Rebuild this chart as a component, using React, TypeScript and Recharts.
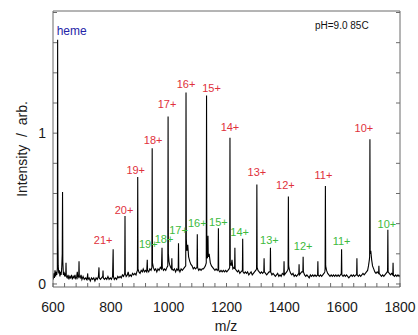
import React from 'react';
import { ComposedChart, Line, Scatter, XAxis, YAxis } from 'recharts';

// Spectrum as [m/z, intensity] pairs, split by range
const spectrum600: [number, number][] = [
  [601, 0.03], [603, 0.07], [605, 0.04], [607, 0.09], [609, 0.05], [611, 0.08], [613, 0.06], [615, 0.1],
  [616, 1.62], [617, 0.3], [618, 0.12], [620, 0.07], [622, 0.09], [624, 0.05], [626, 0.08], [628, 0.06],
  [630, 0.1], [632, 0.2], [633, 0.61], [634, 0.15], [636, 0.06], [638, 0.08], [640, 0.05], [642, 0.07],
  [644, 0.05], [645, 0.14], [646, 0.05], [649, 0.04], [652, 0.06], [655, 0.03], [658, 0.05], [661, 0.04],
  [664, 0.06], [667, 0.03], [670, 0.05], [673, 0.04], [676, 0.06], [679, 0.03], [682, 0.05], [684, 0.08],
  [686, 0.04], [689, 0.05], [690, 0.15], [691, 0.05], [694, 0.04], [697, 0.06], [700, 0.03], [704, 0.05],
  [708, 0.03], [712, 0.04], [716, 0.03], [719, 0.05], [720, 0.07], [721, 0.03], [725, 0.04], [729, 0.02],
  [733, 0.04], [737, 0.03], [741, 0.04], [745, 0.02], [749, 0.04], [753, 0.03], [757, 0.05], [759, 0.11],
  [760, 0.04], [764, 0.03], [768, 0.04], [772, 0.05], [773, 0.09], [774, 0.04], [778, 0.03], [782, 0.04],
  [786, 0.03], [790, 0.05], [794, 0.03], [798, 0.04],
];

const spectrum800: [number, number][] = [
  [802, 0.03], [806, 0.05], [808, 0.23], [809, 0.05], [812, 0.03], [816, 0.04], [820, 0.03], [824, 0.05],
  [828, 0.04], [832, 0.05], [836, 0.04], [840, 0.06], [844, 0.05], [848, 0.07], [849, 0.45], [850, 0.07],
  [853, 0.05], [857, 0.06], [860, 0.08], [863, 0.05], [867, 0.06], [871, 0.05], [875, 0.07], [879, 0.06],
  [883, 0.07], [887, 0.06], [890, 0.08], [892, 0.09], [893, 0.71], [894, 0.1], [897, 0.08], [901, 0.07],
  [905, 0.09], [909, 0.08], [912, 0.1], [916, 0.08], [920, 0.09], [924, 0.08], [926, 0.16], [927, 0.09],
  [931, 0.08], [935, 0.1], [939, 0.09], [942, 0.11], [943, 0.9], [944, 0.14], [947, 0.11], [951, 0.09],
  [955, 0.1], [959, 0.08], [963, 0.1], [967, 0.09], [971, 0.11], [975, 0.1], [977, 0.24], [978, 0.11],
  [982, 0.09], [986, 0.1], [990, 0.09], [994, 0.11], [997, 0.12], [998, 1.11], [999, 0.2],
];

const spectrum1000: [number, number][] = [
  [1001, 0.15], [1003, 0.13], [1007, 0.11], [1010, 0.1], [1011, 0.17], [1012, 0.1], [1016, 0.09],
  [1020, 0.1], [1024, 0.08], [1028, 0.1], [1032, 0.09], [1033, 0.1], [1034, 0.27], [1035, 0.1], [1039, 0.08],
  [1043, 0.1], [1047, 0.09], [1051, 0.1], [1055, 0.11], [1059, 0.12], [1060, 1.27], [1061, 0.3],
  [1063, 0.22], [1066, 0.26], [1069, 0.18], [1073, 0.15], [1077, 0.13], [1081, 0.12], [1085, 0.1],
  [1089, 0.11], [1093, 0.1], [1098, 0.11], [1099, 0.33], [1100, 0.11], [1104, 0.09], [1108, 0.1],
  [1112, 0.09], [1116, 0.1], [1120, 0.1], [1124, 0.11], [1127, 0.12], [1130, 0.14], [1131, 1.25],
  [1132, 0.2], [1134, 0.17], [1136, 0.32], [1137, 0.18], [1140, 0.2], [1144, 0.14], [1148, 0.12],
  [1152, 0.11], [1156, 0.1], [1160, 0.09], [1164, 0.1], [1168, 0.09], [1171, 0.1], [1172, 0.37],
  [1173, 0.09], [1177, 0.08], [1181, 0.09], [1185, 0.08], [1189, 0.09], [1193, 0.08], [1197, 0.09],
];

const spectrum1200: [number, number][] = [
  [1201, 0.08], [1205, 0.09], [1209, 0.1], [1211, 0.11], [1212, 0.97], [1213, 0.14], [1216, 0.12],
  [1219, 0.16], [1222, 0.1], [1226, 0.11], [1228, 0.1], [1229, 0.24], [1230, 0.1], [1234, 0.09],
  [1238, 0.08], [1242, 0.09], [1246, 0.07], [1250, 0.08], [1255, 0.09], [1256, 0.3], [1257, 0.08],
  [1261, 0.07], [1265, 0.08], [1269, 0.07], [1273, 0.08], [1277, 0.06], [1281, 0.07], [1285, 0.08],
  [1289, 0.06], [1293, 0.07], [1297, 0.08], [1301, 0.09], [1304, 0.1], [1305, 0.66], [1306, 0.11],
  [1309, 0.09], [1313, 0.08], [1317, 0.07], [1321, 0.08], [1325, 0.07], [1329, 0.08], [1330, 0.17],
  [1331, 0.08], [1335, 0.07], [1339, 0.06], [1343, 0.07], [1347, 0.08], [1351, 0.08], [1352, 0.24],
  [1353, 0.08], [1357, 0.06], [1361, 0.07], [1365, 0.06], [1369, 0.05], [1373, 0.06], [1377, 0.07],
  [1381, 0.05], [1385, 0.06], [1389, 0.05], [1393, 0.07], [1398, 0.06], [1399, 0.15], [1400, 0.06],
];

const spectrum1400: [number, number][] = [
  [1404, 0.07], [1408, 0.08], [1411, 0.09], [1413, 0.1], [1414, 0.58], [1415, 0.12], [1418, 0.09],
  [1422, 0.07], [1426, 0.06], [1430, 0.07], [1434, 0.05], [1438, 0.06], [1442, 0.05], [1446, 0.06],
  [1450, 0.07], [1451, 0.13], [1452, 0.06], [1456, 0.07], [1460, 0.08], [1464, 0.08], [1465, 0.18],
  [1466, 0.08], [1470, 0.06], [1474, 0.05], [1478, 0.06], [1482, 0.05], [1486, 0.04], [1490, 0.06],
  [1494, 0.05], [1498, 0.06], [1502, 0.05], [1506, 0.06], [1510, 0.05], [1515, 0.06], [1516, 0.15],
  [1517, 0.06], [1521, 0.05], [1525, 0.06], [1529, 0.05], [1533, 0.06], [1537, 0.07], [1540, 0.08],
  [1541, 0.1], [1542, 0.65], [1543, 0.12], [1546, 0.09], [1550, 0.07], [1554, 0.06], [1558, 0.05],
  [1562, 0.06], [1566, 0.05], [1570, 0.06], [1574, 0.05], [1578, 0.06], [1582, 0.05], [1586, 0.06],
  [1590, 0.05], [1594, 0.06], [1597, 0.07], [1598, 0.23], [1599, 0.06],
];

const spectrum1600: [number, number][] = [
  [1603, 0.05], [1607, 0.06], [1611, 0.05], [1615, 0.06], [1619, 0.05], [1623, 0.04], [1627, 0.05],
  [1631, 0.06], [1635, 0.05], [1639, 0.06], [1643, 0.05], [1647, 0.06], [1650, 0.06], [1651, 0.17],
  [1652, 0.06], [1656, 0.05], [1660, 0.06], [1664, 0.05], [1668, 0.06], [1672, 0.07], [1676, 0.06],
  [1680, 0.07], [1684, 0.08], [1688, 0.09], [1691, 0.12], [1694, 0.16], [1695, 0.18], [1696, 0.96],
  [1697, 0.2], [1699, 0.22], [1702, 0.16], [1705, 0.12], [1709, 0.1], [1713, 0.08], [1717, 0.07],
  [1721, 0.08], [1726, 0.07], [1727, 0.12], [1728, 0.07], [1732, 0.06], [1736, 0.05], [1740, 0.06],
  [1744, 0.05], [1748, 0.06], [1752, 0.07], [1756, 0.08], [1757, 0.09], [1758, 0.36], [1759, 0.08],
  [1763, 0.07], [1767, 0.06], [1771, 0.07], [1775, 0.06], [1776, 0.14], [1777, 0.06], [1781, 0.05],
  [1785, 0.06], [1789, 0.05], [1793, 0.06], [1797, 0.05], [1800, 0.06],
];

// peak assignments: apo form in red, heme-bound form in green
const hemeMz = 616;
const apoCharges = [21, 20, 19, 18, 17, 16, 15, 14, 13, 12, 11, 10];
const apoMz = [808, 849, 893, 943, 998, 1060, 1131, 1212, 1305, 1414, 1542, 1696];
const holoCharges = [19, 18, 17, 16, 15, 14, 13, 12, 11, 10];
const holoMz = [926, 977, 1034, 1099, 1172, 1256, 1352, 1465, 1598, 1758];

const xMajor = [600, 800, 1000, 1200, 1400, 1600, 1800];
const xTicks = [
  600, 640, 680, 720, 760, 800, 840, 880, 920, 960, 1000, 1040, 1080, 1120, 1160, 1200,
  1240, 1280, 1320, 1360, 1400, 1440, 1480, 1520, 1560, 1600, 1640, 1680, 1720, 1760, 1800,
];
const yTicks = [0, 0.2, 0.4, 0.6, 0.8, 1, 1.2, 1.4, 1.6, 1.8];
const yLabelled = [0, 1];

const RED = '#e0313c';
const GREEN = '#3dba3d';
const BLUE = '#2424a8';
const FRAME = '#6a6a6a';
const FONT = '"Liberation Sans", Arial, Helvetica, sans-serif';

const points = [
  ...spectrum600, ...spectrum800, ...spectrum1000,
  ...spectrum1200, ...spectrum1400, ...spectrum1600,
].map(([mz, intensity]) => ({ mz, intensity }));

const peakTop = (mz: number) =>
  Math.max(...points.filter((p) => Math.abs(p.mz - mz) < 1.5).map((p) => p.intensity));

const labels = [
  { key: 'heme', mz: hemeMz, text: 'heme', color: BLUE },
  ...apoCharges.map((z, i) => ({ key: `apo${z}`, mz: apoMz[i], text: `${z}+`, color: RED })),
  ...holoCharges.map((z, i) => ({ key: `holo${z}`, mz: holoMz[i], text: `${z}+`, color: GREEN })),
].map((l) => ({ ...l, intensity: peakTop(l.mz) }));

// pixel nudges for each tag relative to its peak top
const nudge: Record<string, [number, number]> = {
  heme: [-1, -5],
  apo21: [-10, -5], apo20: [-1, -2], apo19: [-2, -3], apo18: [1, -4], apo17: [-1, -9], apo16: [0, -4],
  apo15: [5, -3], apo14: [0, -7], apo13: [0, -8], apo12: [-3, -8], apo11: [-2, -7], apo10: [-6, -7],
  holo19: [1, -12], holo18: [2, -5], holo17: [0, -9], holo16: [0, -7], holo15: [0, -2],
  holo14: [-3, -3], holo13: [-1, -4], holo12: [0, -7], holo11: [0, -4], holo10: [-1, -2],
};

const PeakTag = (props: any) => {
  const { cx, cy, payload } = props;
  const [dx, dy] = nudge[payload.key] ?? [0, -6];
  const isHeme = payload.key === 'heme';
  return (
    <text
      x={cx + dx}
      y={cy + dy}
      fill={payload.color}
      fontSize={isHeme ? 12 : 11}
      fontFamily={FONT}
      textAnchor={isHeme ? 'start' : 'middle'}
    >
      {payload.text}
    </text>
  );
};

export default function App() {
  return (
    <div style={{ position: 'fixed', left: 0, top: 0, width: 418, height: 335, background: '#fff' }}>
      <ComposedChart
        width={418}
        height={335}
        data={points}
        margin={{ top: 0, right: 0, bottom: 0, left: 0 }}
        style={{ fontFamily: FONT }}
      >
        <XAxis
          xAxisId={0}
          dataKey="mz"
          type="number"
          domain={[600, 1800]}
          ticks={xTicks}
          interval={0}
          allowDataOverflow
          height={48}
          tickSize={-4}
          tickMargin={19}
          stroke={FRAME}
          tick={{ fontSize: 14, fill: '#1a1a1a', fontFamily: FONT }}
          tickFormatter={(v: number) => (xMajor.includes(v) ? String(v) : '')}
        />
        <XAxis
          xAxisId="top"
          orientation="top"
          type="number"
          domain={[600, 1800]}
          ticks={xTicks}
          interval={0}
          allowDataOverflow
          height={11}
          tickSize={-3}
          stroke={FRAME}
          tickFormatter={() => ''}
        />
        <YAxis
          yAxisId={0}
          type="number"
          domain={[-0.02, 1.81]}
          ticks={yTicks}
          interval={0}
          allowDataOverflow
          width={53}
          tickSize={-4}
          tickMargin={11}
          stroke={FRAME}
          tick={{ fontSize: 14, fill: '#1a1a1a', fontFamily: FONT }}
          tickFormatter={(v: number) => (yLabelled.includes(v) ? String(v) : '')}
        />
        <YAxis
          yAxisId="right"
          orientation="right"
          type="number"
          domain={[-0.02, 1.81]}
          ticks={yTicks}
          interval={0}
          allowDataOverflow
          width={18}
          tickSize={-4}
          stroke={FRAME}
          tickFormatter={() => ''}
        />
        <Line
          xAxisId={0}
          yAxisId={0}
          type="linear"
          dataKey="intensity"
          stroke="#000"
          strokeWidth={1.1}
          dot={false}
          activeDot={false}
          isAnimationActive={false}
        />
        <Scatter
          xAxisId={0}
          yAxisId={0}
          data={labels}
          dataKey="intensity"
          shape={PeakTag}
          isAnimationActive={false}
        />
        <text x={315} y={29} fontSize={10} fill="#111" fontFamily={FONT}>
          pH=9.0 85C
        </text>
        <text
          x={27}
          y={149}
          fontSize={14}
          fill="#1a1a1a"
          fontFamily={FONT}
          textAnchor="middle"
          transform="rotate(-90, 27, 149)"
        >
          {'Intensity\u00a0\u00a0/\u00a0\u00a0arb.'}
        </text>
        <text x={226} y={331} fontSize={14} fill="#1a1a1a" fontFamily={FONT} textAnchor="middle">
          m/z
        </text>
      </ComposedChart>
    </div>
  );
}
